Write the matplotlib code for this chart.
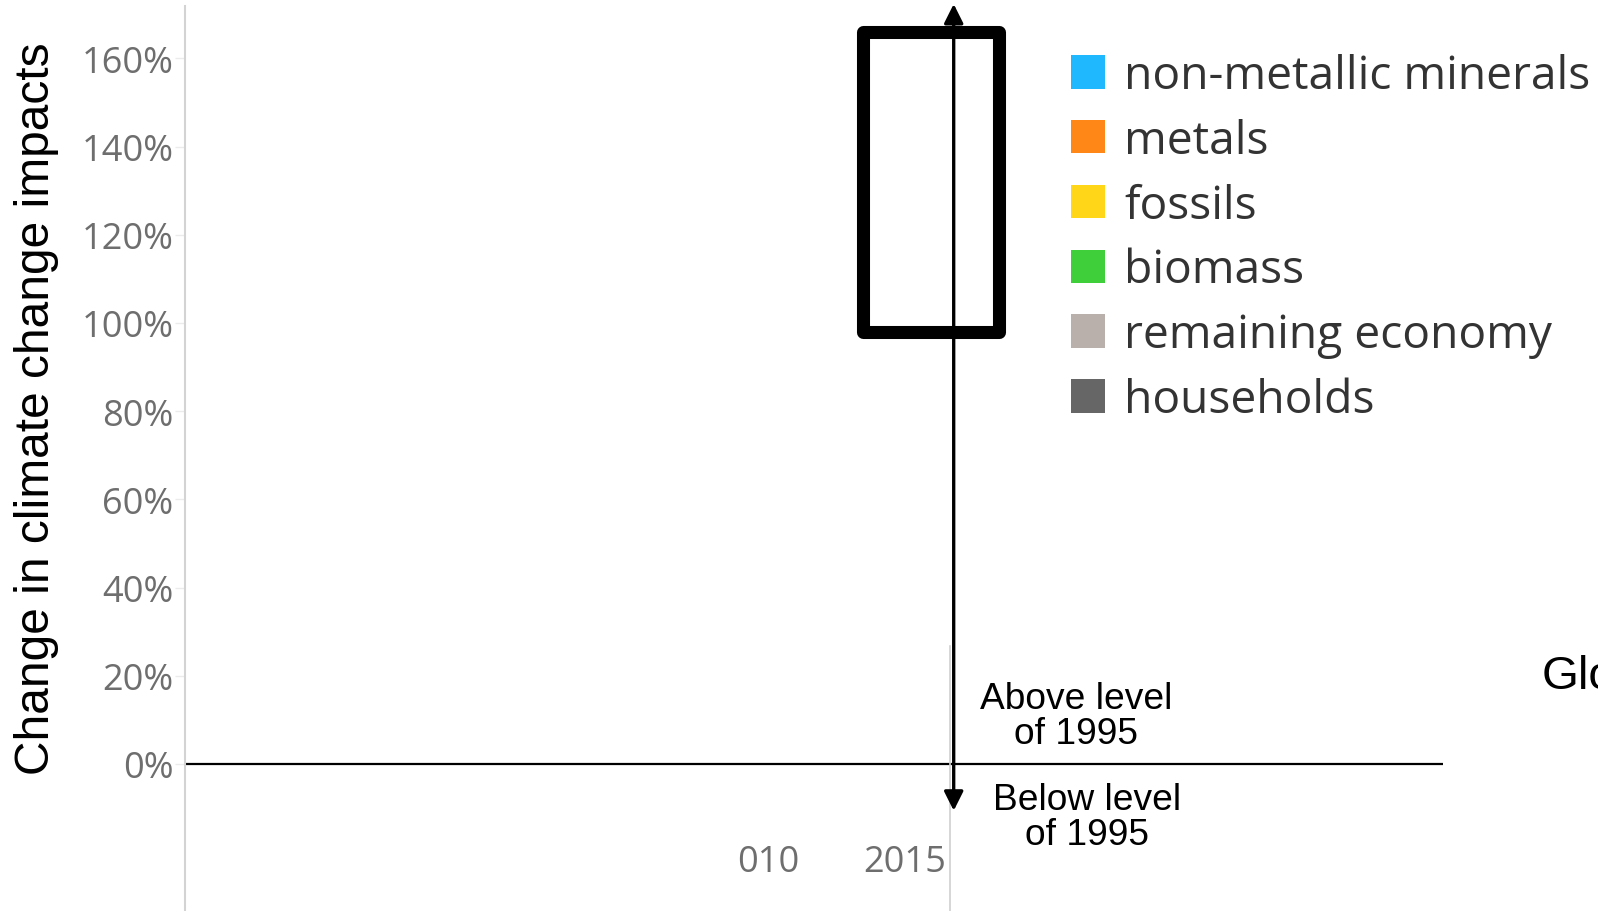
import matplotlib
matplotlib.use("Agg")
import matplotlib.pyplot as plt
from matplotlib.patches import Patch, Rectangle

# ---- data ----
categories = ["non-metallic minerals", "metals", "fossils", "biomass",
              "remaining economy", "households"]
colors = ["#1fb8ff", "#ff8718", "#ffd618", "#3ecf3a", "#b9b0ab", "#666666"]
years = [1995]
non_metallic = [0.0]
metals = [0.0]
fossils = [0.0]
biomass = [0.0]
remaining_economy = [0.0]
households = [0.0]
y_ticks = [0, 20, 40, 60, 80, 100, 120, 140, 160]
x_ticks = [2010, 2015]
x_tick_labels = ["010", "2015"]

W, H = 1598, 912
fig = plt.figure(figsize=(W / 100, H / 100), dpi=100)
ax = fig.add_axes([185 / W, 0, (1443 - 185) / W, (912 - 7) / H])

ax.stackplot(years, non_metallic, metals, fossils, biomass,
             remaining_economy, households, colors=colors)

px_per_pct = 4.41
px_per_yr = 27.4
ax.set_ylim((765 - 912) / px_per_pct, (765 - 7) / px_per_pct)
ax.set_xlim(2015 - (905 - 185) / px_per_yr, 2015 + (1443 - 905) / px_per_yr)

for s in ["top", "right", "bottom"]:
    ax.spines[s].set_visible(False)
ax.spines["left"].set_color("#d3d3d3")
ax.spines["left"].set_linewidth(1.5)

tick_font = "Open Sans"
ax.set_yticks(y_ticks, labels=[f"{v}%" for v in y_ticks])
ax.tick_params(axis="y", length=7.2, width=1, color="#ebebeb", pad=1.2,
               labelsize=26, labelcolor="#6e6e6e")
ax.set_xticks(x_ticks, labels=x_tick_labels)
ax.tick_params(axis="x", length=0, direction="in", pad=-48,
               labelsize=26, labelcolor="#6e6e6e")
for lab in ax.get_yticklabels() + ax.get_xticklabels():
    lab.set_family(tick_font)

# zero line
ax.axhline(0, color="black", lw=1.6)
# light frame line
ax.axvline(2015 + (949.7 - 905) / px_per_yr, ymin=0, ymax=(912 - 647) / 905,
           color="#d0d0d0", lw=1.2)

# highlight rectangle
x0 = 2015 + (863.3 - 905) / px_per_yr
x1 = 2015 + (999 - 905) / px_per_yr
y0 = (765 - 332.7) / px_per_pct
y1 = (765 - 32.7) / px_per_pct
ax.add_patch(Rectangle((x0, y0), x1 - x0, y1 - y0, fill=False, ec="black",
                       lw=9.4, joinstyle="round", clip_on=False))

# double arrow
xa = 2015 + (953.7 - 905) / px_per_yr
ax.annotate("", xy=(xa, (765 - 5) / px_per_pct), xytext=(xa, (765 - 811.7) / px_per_pct),
            annotation_clip=False,
            arrowprops=dict(arrowstyle="<|-|>,head_length=0.58,head_width=0.29",
                            mutation_scale=20, lw=2.4, color="black",
                            shrinkA=0, shrinkB=0))

arial = "Liberation Sans"
ax.text(2015 + (1075.8 - 905) / px_per_yr, (765 - 744) / px_per_pct,
        "Above level\nof 1995", ha="center", va="baseline", fontsize=26.7,
        family=arial, linespacing=1.0, color="black")
ax.text(2015 + (1086.7 - 905) / px_per_yr, (765 - 845) / px_per_pct,
        "Below level\nof 1995", ha="center", va="baseline", fontsize=26.7,
        family=arial, linespacing=1.0, color="black")

fig.text(1541.7 / W, 1 - 689 / H, "Glo", ha="left", va="baseline",
         fontsize=34.2, family=arial, color="black")

ax.set_ylabel("Change in climate change impacts", fontsize=34.5, family=arial,
              color="black")
ax.yaxis.set_label_coords((59 - 185) / 1258, (912 - 409) / 905)

handles = [Patch(facecolor=c, edgecolor="none", label=n) for c, n in zip(colors, categories)]
leg = fig.legend(handles=handles, loc="upper left",
                 bbox_to_anchor=(1071 / W, 1 - 54 / H), frameon=False,
                 borderaxespad=0, borderpad=0, handlelength=0.737,
                 handleheight=0.737, handletextpad=0.42, labelspacing=0.408,
                 prop={"family": tick_font, "size": 33.2})
for t in leg.get_texts():
    t.set_color("#333333")

fig.savefig("out.png", dpi=100)
